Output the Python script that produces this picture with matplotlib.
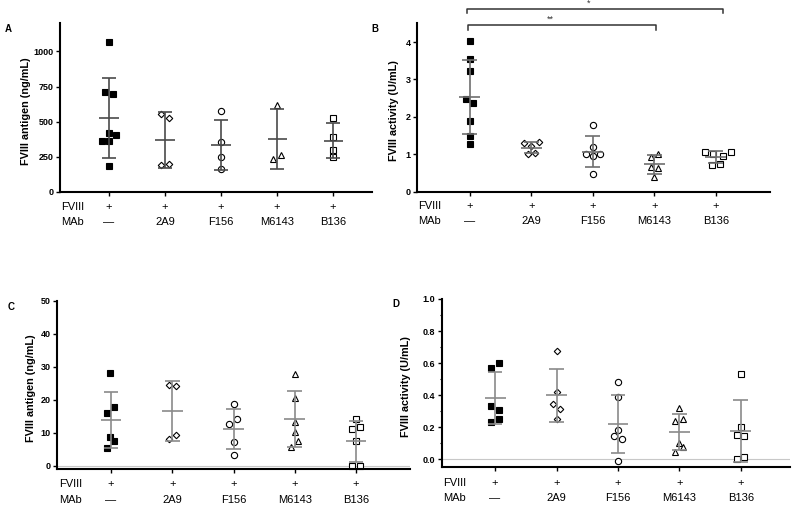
import numpy as np
import matplotlib
matplotlib.use('Agg')
import matplotlib.pyplot as plt
from matplotlib.ticker import MultipleLocator, FormatStrFormatter

plt.rcParams['font.family'] = ['Liberation Sans', 'DejaVu Sans']

# groups and row labels under each panel
groups = ['—', '2A9', 'F156', 'M6143', 'B136']
fviii = ['+', '+', '+', '+', '+']

# marker per group (control filled, antibodies open)
markers = ['s', 'D', 'o', '^', 's']
msizes = [4.3, 3.3, 4.5, 4.6, 4.6]
faces = ['black', 'white', 'white', 'white', 'white']

# A: FVIII antigen (ng/mL)
a_vals = [
    [1069, 710, 700, 423, 404, 363, 360, 183],
    [556, 525, 192, 197],
    [575, 356, 252, 162],
    [622, 238, 266],
    [525, 394, 299, 247],
]
a_jit = [
    [0, -0.07, 0.07, 0, 0.13, -0.13, 0, 0],
    [-0.07, 0.07, -0.07, 0.07],
    [0, 0, 0, 0],
    [0, -0.07, 0.07],
    [0, 0, 0, 0],
]

# B: FVIII activity (U/mL)
b_vals = [
    [4.03, 3.55, 3.22, 2.48, 2.38, 1.89, 1.50, 1.28],
    [1.30, 1.23, 1.32, 1.01, 1.04],
    [1.78, 1.19, 1.02, 0.95, 1.02, 0.48],
    [1.02, 0.94, 0.67, 0.64, 0.38],
    [1.06, 1.00, 0.95, 1.07, 0.70, 0.74],
]
b_jit = [
    [0, 0, 0, -0.065, 0.055, 0, 0, 0],
    [-0.115, 0, 0.12, -0.06, 0.06],
    [0, 0, -0.11, 0, 0.12, 0],
    [0.065, -0.055, -0.055, 0.065, 0],
    [-0.175, -0.05, 0.12, 0.245, -0.06, 0.065],
]

# C: FVIII antigen (ng/mL)
c_vals = [
    [28.1, 16.1, 17.8, 8.8, 7.4, 5.5],
    [24.5, 24.2, 8.1, 9.2],
    [18.7, 14.2, 12.5, 7.3, 3.2],
    [27.7, 20.6, 13.1, 10.1, 7.5, 5.8],
    [14.2, 11.8, 11.0, 7.4, 0.0, 0.0],
]
c_jit = [
    [-0.02, -0.07, 0.05, -0.02, 0.05, -0.07],
    [-0.06, 0.06, -0.06, 0.06],
    [0, 0.06, -0.07, 0, 0],
    [0, 0, 0, 0, 0.045, -0.07],
    [0, 0.06, -0.065, 0, -0.065, 0.06],
]

# D: FVIII activity (U/mL)
d_vals = [
    [0.600, 0.567, 0.331, 0.308, 0.250, 0.233],
    [0.673, 0.419, 0.342, 0.315, 0.250],
    [0.485, 0.390, 0.183, 0.148, 0.127, -0.0125],
    [0.321, 0.2375, 0.250, 0.104, 0.079, 0.044],
    [0.533, 0.200, 0.150, 0.146, 0.017, 0.002],
]
d_jit = [
    [0.065, -0.06, -0.06, 0.065, 0.065, -0.06],
    [0, 0, -0.06, 0.06, 0],
    [0, 0, 0, -0.06, 0.06, 0],
    [0, -0.065, 0.055, 0, 0.055, -0.065],
    [0, 0, -0.065, 0.055, 0.055, -0.065],
]


def dot_panel(ax, vals, jit, bar_col):
    for i, (v, j) in enumerate(zip(vals, jit)):
        v = np.asarray(v, float)
        x = i + np.asarray(j)
        ax.plot(x, v, ls='none', marker=markers[i], ms=msizes[i],
                mfc=faces[i], mec='black', mew=0.8, zorder=2, clip_on=False)
        m, sd = v.mean(), v.std(ddof=1)
        ax.hlines(m, i - 0.17, i + 0.17, color=bar_col, lw=1.2, zorder=3)
        ax.hlines([m - sd, m + sd], i - 0.12, i + 0.12, color=bar_col, lw=1.2, zorder=3)
        ax.vlines(i, m - sd, m + sd, color=bar_col, lw=1.2, zorder=3)


def style(ax, xlim, ylim, yticks, ylabel, lab_x, d1, d2, minor=None, fmt=None):
    ax.set_xlim(*xlim)
    ax.set_ylim(*ylim)
    ax.set_yticks(yticks)
    if fmt:
        ax.yaxis.set_major_formatter(FormatStrFormatter(fmt))
    if minor:
        ax.yaxis.set_minor_locator(MultipleLocator(minor))
    ax.set_xticks(range(5))
    ax.set_xticklabels([])
    for s in ['top', 'right']:
        ax.spines[s].set_visible(False)
    for s in ['left', 'bottom']:
        ax.spines[s].set_linewidth(1.5)
    ax.tick_params(axis='both', which='major', length=3, width=1, labelsize=6.5, pad=1.5)
    ax.tick_params(axis='y', which='minor', length=1.5, width=0.8)
    for t in ax.get_yticklabels():
        t.set_fontweight('bold')
    ax.set_ylabel(ylabel, fontsize=7.8, fontweight='bold')
    ax.yaxis.set_label_coords(lab_x, 0.48)
    # FVIII / MAb rows
    ax.annotate('FVIII', xy=(0.005, 0), xycoords='axes fraction', xytext=(0, -d1),
                textcoords='offset points', ha='left', va='center', fontsize=8)
    ax.annotate('MAb', xy=(0.005, 0), xycoords='axes fraction', xytext=(0, -d2),
                textcoords='offset points', ha='left', va='center', fontsize=8)
    for i in range(5):
        ax.annotate(fviii[i], xy=(i, 0), xycoords=('data', 'axes fraction'), xytext=(0, -d1),
                    textcoords='offset points', ha='center', va='center', fontsize=8)
        ax.annotate(groups[i], xy=(i, 0), xycoords=('data', 'axes fraction'), xytext=(0, -d2),
                    textcoords='offset points', ha='center', va='center', fontsize=8)


fig = plt.figure(figsize=(8, 5.11), dpi=100)
axA = fig.add_axes([0.075, 0.6243, 0.3896, 0.330])
axB = fig.add_axes([0.5209, 0.6249, 0.4416, 0.3295])
axC = fig.add_axes([0.0716, 0.0822, 0.4409, 0.3293])
axD = fig.add_axes([0.552, 0.0855, 0.4355, 0.3294])

dot_panel(axA, a_vals, a_jit, '#4a4a4a')
style(axA, (-0.875, 4.69), (0, 1200), [0, 250, 500, 750, 1000],
      'FVIII antigen (ng/mL)', -0.094, 10.8, 21.6)

dot_panel(axB, b_vals, b_jit, '#6e6e6e')
style(axB, (-0.86, 4.88), (0, 4.5), [0, 1, 2, 3, 4],
      'FVIII activity (U/mL)', -0.05, 10.3, 21.1)

dot_panel(axC, c_vals, c_jit, '#8a8a8a')
axC.axhline(0, color='#c8c8c8', lw=0.8, zorder=1)
style(axC, (-0.876, 4.88), (-1.0, 50), [0, 10, 20, 30, 40, 50],
      'FVIII antigen (ng/mL)', -0.06, 10.6, 22.3)

dot_panel(axD, d_vals, d_jit, '#8a8a8a')
axD.axhline(0, color='#c8c8c8', lw=0.8, zorder=1)
style(axD, (-0.87, 4.8), (-0.05, 1.0), [0.0, 0.2, 0.4, 0.6, 0.8, 1.0],
      'FVIII activity (U/mL)', -0.089, 11.5, 22.3, minor=0.1, fmt='%.1f')

# significance brackets on B
brk = '#333333'
axB.plot([-0.05, -0.05, 4.11, 4.11], [4.77, 4.88, 4.88, 4.77], color=brk, lw=1.1, clip_on=False)
axB.text(1.93, 4.91, '*', ha='center', va='bottom', fontsize=6.5, color=brk)
axB.plot([-0.03, -0.03, 3.03, 3.03], [4.32, 4.45, 4.45, 4.32], color=brk, lw=1.1, clip_on=False)
axB.text(1.31, 4.48, '**', ha='center', va='bottom', fontsize=6.5, color=brk)

# panel letters
for letter, x, y in [('A', 0.006, 0.943), ('B', 0.464, 0.943), ('C', 0.009, 0.399), ('D', 0.49, 0.405)]:
    fig.text(x, y, letter, fontsize=7, fontweight='bold', ha='left', va='center')

fig.savefig('out.png', dpi=100)
